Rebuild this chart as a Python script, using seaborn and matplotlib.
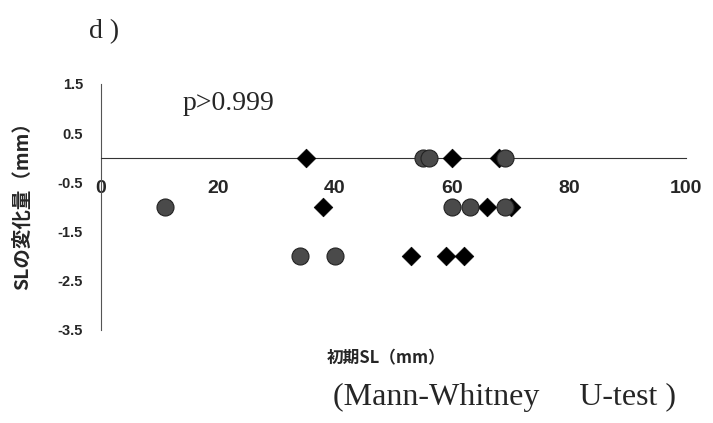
import matplotlib
matplotlib.use("Agg")
import matplotlib.pyplot as plt
import seaborn as sns
import pandas as pd

# ---- data ----
circle_x = [55, 56, 69, 11, 60, 63, 69, 34, 40]
circle_y = [0, 0, 0, -1, -1, -1, -1, -2, -2]
diamond_x = [35, 60, 68, 38, 66, 70, 53, 59, 62]
diamond_y = [0, 0, 0, -1, -1, -1, -2, -2, -2]
x_ticks = [0, 20, 40, 60, 80, 100]
y_ticks = [1.5, 0.5, -0.5, -1.5, -2.5, -3.5]
x_label = "初期SL（mm）"
y_label = "SLの変化量（mm）"
p_text = "p>0.999"
test_text = "(Mann-Whitney     U-test )"
panel_text = "d )"

sns.set_style("white")
plt.rcParams['font.family'] = ['Noto Sans CJK JP', 'DejaVu Sans']
plt.rcParams['axes.unicode_minus'] = False

df = pd.concat([
    pd.DataFrame({"x": diamond_x, "y": diamond_y, "g": "B"}),
    pd.DataFrame({"x": circle_x, "y": circle_y, "g": "A"}),
], ignore_index=True)

fig = plt.figure(figsize=(7.13, 4.23), dpi=100)
ax = fig.add_axes([0.1417, 0.2199, 0.8205, 0.5816])

sns.scatterplot(data=df[df.g == "B"], x="x", y="y", marker="D", s=90,
                color="black", edgecolor="black", linewidth=0.5, ax=ax,
                legend=False, zorder=3)
sns.scatterplot(data=df[df.g == "A"], x="x", y="y", marker="o", s=150,
                color="#4a4a4a", edgecolor="#222222", linewidth=0.8, ax=ax,
                legend=False, zorder=4)

ax.set_xlim(0, 100)
ax.set_ylim(-3.5, 1.5)
ax.set_xticks(x_ticks)
ax.set_yticks(y_ticks)
ax.set_xticklabels([str(v) for v in x_ticks])
ax.set_yticklabels([f"{v:.1f}" for v in y_ticks])
ax.set_xlabel("")
ax.set_ylabel("")

for s in ["top", "right"]:
    ax.spines[s].set_visible(False)
ax.spines["bottom"].set_position(("data", 0))
ax.spines["bottom"].set_color("#333333")
ax.spines["left"].set_color("#555555")
ax.spines["bottom"].set_linewidth(0.8)
ax.spines["left"].set_linewidth(0.8)

ax.tick_params(axis="x", direction="in", length=5, width=0.8, pad=16,
               labelsize=14, color="#333333")
ax.tick_params(axis="y", direction="in", length=5, width=0.8, pad=13,
               labelsize=10.5, color="#555555")
for lab in ax.get_xticklabels() + ax.get_yticklabels():
    lab.set_family(['Liberation Sans Narrow', 'Liberation Sans', 'DejaVu Sans'])
    lab.set_fontweight('bold')

ax.text(14, 1.1, p_text, family=['Liberation Serif', 'DejaVu Serif'],
        fontsize=20, va="center", ha="left")

fig.text(0.031, 0.525, y_label, rotation=90, ha="center", va="center",
         fontsize=14, fontweight="bold")
fig.text(0.542, 0.154, x_label, ha="center", va="center",
         fontsize=12, fontweight="bold")
fig.text(0.467, 0.0426, test_text, ha="left", va="baseline",
         family=['Liberation Serif', 'DejaVu Serif'], fontsize=23)
fig.text(0.146, 0.925, panel_text, ha="center", va="center",
         family=['Liberation Serif', 'DejaVu Serif'], fontsize=20)

fig.savefig("out.png", dpi=100)
